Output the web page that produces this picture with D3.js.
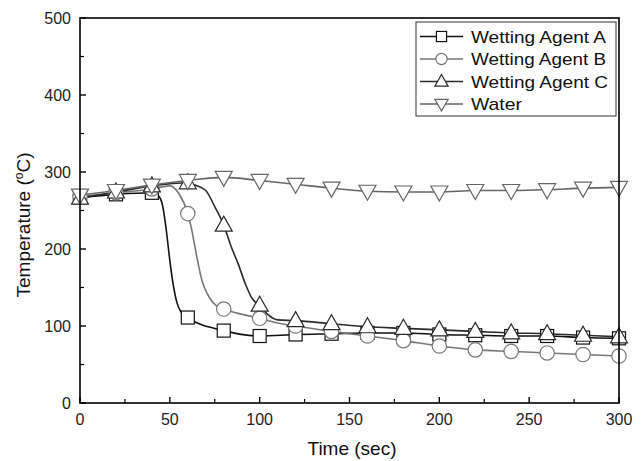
<!DOCTYPE html>
<html><head><meta charset="utf-8">
<script src="https://cdn.jsdelivr.net/npm/d3@7"></script>
<style>body{margin:0;background:#fff}svg{display:block;font-family:"Liberation Sans",Arial,sans-serif}</style>
</head><body><svg id="c" width="644" height="461"></svg>
<script>
const times = [0,20,40,60,80,100,120,140,160,180,200,220,240,260,280,300];
const agentA = [267,271,273,111,94,87,89,90,91,91,89,88,87,87,85,84];
const agentB = [268,273,278,246,122,110,100,93,87,81,74,69,67,65,63,61];
const agentC = [266,274,282,286,231,127,107,103,99,97,95,93,91,90,88,86];
const water  = [270,276,283,289,293,289,284,279,275,274,274,276,276,277,279,280];
// extra traced points of the smooth curves between markers
const curveAT = [44,46,48,50,52,54,56];
const curveAV = [268,256,225,185,152,130,119];
const curveBT = [50,55,62,65,68,72,76,110];
const curveBV = [282,272,227,190,158,137,126,104];
const curveCT = [64,70,75,84,88,92,96,104,110];
const curveCV = [283,276,255,204,181,155,135,116,108];
const xTicks = [0,50,100,150,200,250,300];
const yTicks = [0,100,200,300,400,500];
const seriesNames = ["Wetting Agent A","Wetting Agent B","Wetting Agent C","Water"];

const svg = d3.select("#c");
const x = d3.scaleLinear().domain([0,300]).range([80,619]);
const y = d3.scaleLinear().domain([0,500]).range([403,18]);

const series = [
  {name:seriesNames[0], v:agentA, ct:curveAT, cv:curveAV, color:"#111", sym:"square", tl:135},
  {name:seriesNames[1], v:agentB, ct:curveBT, cv:curveBV, color:"#777", sym:"circle", tl:135},
  {name:seriesNames[2], v:agentC, ct:curveCT, cv:curveCV, color:"#2a2a2a", sym:"up", tl:137},
  {name:seriesNames[3], v:water, ct:[], cv:[], color:"#666", sym:"down", tl:51}
];

function marker(g, sym, cx, cy, color, k){
  k = k || 1;
  if(sym==="square") g.append("rect").attr("x",cx-6.5*k).attr("y",cy-6.5*k).attr("width",13*k).attr("height",13*k);
  else if(sym==="circle") g.append("circle").attr("cx",cx).attr("cy",cy).attr("r",7.2*k);
  else if(sym==="up") g.append("path").attr("d",`M${cx},${cy-9*k}L${cx+8.5*k},${cy+6*k}L${cx-8.5*k},${cy+6*k}Z`);
  else g.append("path").attr("d",`M${cx},${cy+9*k}L${cx+8.5*k},${cy-6*k}L${cx-8.5*k},${cy-6*k}Z`);
  g.selectAll("*").attr("fill","#fff").attr("stroke",color).attr("stroke-width",1.2);
}

const line = d3.line().x(d=>x(d[0])).y(d=>y(d[1])).curve(d3.curveMonotoneX);
const plot = svg.append("g");
series.forEach(s=>{
  const pts = times.map((t,i)=>[t,s.v[i]]).concat(s.ct.map((t,i)=>[t,s.cv[i]])).sort((a,b)=>a[0]-b[0]);
  plot.append("path").attr("d",line(pts)).attr("fill","none").attr("stroke",s.color).attr("stroke-width",1.6);
});
series.forEach(s=>{
  times.forEach((t,i)=>{ const g = plot.append("g"); marker(g, s.sym, x(t), y(s.v[i]), s.color); });
});

// frame
svg.append("rect").attr("x",80).attr("y",18).attr("width",539).attr("height",385)
  .attr("fill","none").attr("stroke","#000").attr("stroke-width",1.6);

// x ticks (inward)
const xMinor = d3.range(25,300,50);
const gx = svg.append("g");
xTicks.forEach(t=>{
  gx.append("line").attr("x1",x(t)).attr("x2",x(t)).attr("y1",403).attr("y2",397).attr("stroke","#000").attr("stroke-width",1.4);
  gx.append("text").attr("x",x(t)).attr("y",425).attr("text-anchor","middle").attr("font-size",16).attr("fill","#222").text(t);
});
xMinor.forEach(t=>gx.append("line").attr("x1",x(t)).attr("x2",x(t)).attr("y1",403).attr("y2",399).attr("stroke","#000").attr("stroke-width",1.2));
const yMinor = d3.range(50,500,100);
const gy = svg.append("g");
yTicks.forEach(t=>{
  gy.append("line").attr("x1",80).attr("x2",86).attr("y1",y(t)).attr("y2",y(t)).attr("stroke","#000").attr("stroke-width",1.4);
  gy.append("text").attr("x",71).attr("y",y(t)+6).attr("text-anchor","end").attr("font-size",16).attr("fill","#222").text(t);
});
yMinor.forEach(t=>gy.append("line").attr("x1",80).attr("x2",84).attr("y1",y(t)).attr("y2",y(t)).attr("stroke","#000").attr("stroke-width",1.2));

// axis titles
svg.append("text").attr("x",352).attr("y",455).attr("text-anchor","middle").attr("font-size",19).attr("fill","#111").text("Time (sec)");
const yt = svg.append("text").attr("transform","translate(30,225) rotate(-90)").attr("text-anchor","middle").attr("font-size",19).attr("fill","#111");
yt.append("tspan").text("Temperature (");
yt.append("tspan").attr("dy",-7).attr("font-size",12).text("o");
yt.append("tspan").attr("dy",7).text("C)");

// legend
const lg = svg.append("g");
lg.append("rect").attr("x",416).attr("y",22).attr("width",200).attr("height",94).attr("fill","#fff").attr("stroke","#333").attr("stroke-width",1);
series.forEach((s,i)=>{
  const cy = 36.5 + i*22.5;
  lg.append("line").attr("x1",420).attr("x2",463).attr("y1",cy).attr("y2",cy).attr("stroke",s.color).attr("stroke-width",1.6);
  marker(lg.append("g"), s.sym, 441.5, cy, s.color, 0.78);
  lg.append("text").attr("x",471).attr("y",cy+6).attr("font-size",17).attr("fill","#111")
    .attr("textLength",s.tl).attr("lengthAdjust","spacingAndGlyphs").text(s.name);
});
</script></body></html>
